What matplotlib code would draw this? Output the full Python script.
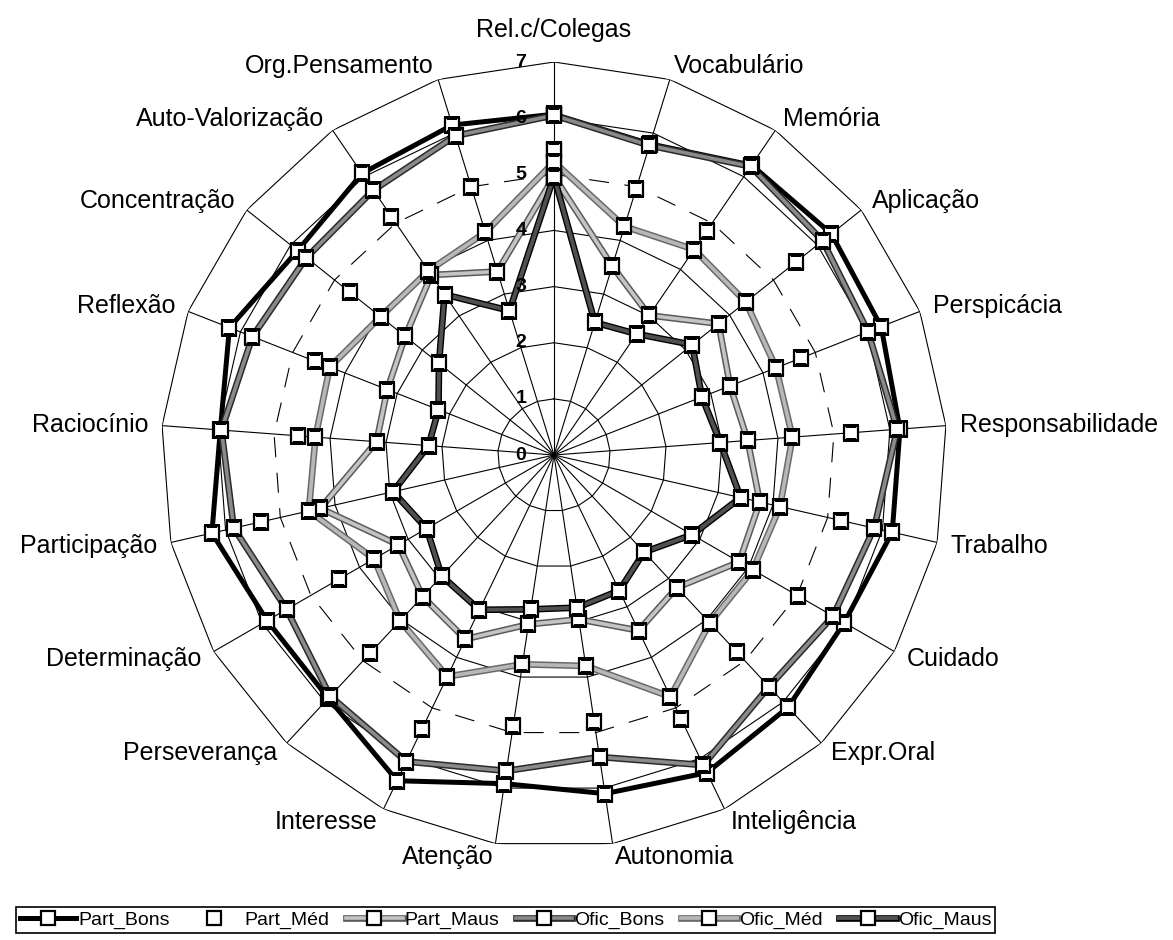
import numpy as np
import matplotlib
matplotlib.use("Agg")
import matplotlib.pyplot as plt
import matplotlib.patheffects as pe

plt.rcParams['font.family'] = ['Liberation Sans', 'DejaVu Sans']

# categories, clockwise from the top
categories = ["Rel.c/Colegas", "Vocabulário", "Memória", "Aplicação", "Perspicácia",
              "Responsabilidade", "Trabalho", "Cuidado", "Expr.Oral", "Inteligência",
              "Autonomia", "Atenção", "Interesse", "Perseverança", "Determinação",
              "Participação", "Raciocínio", "Reflexão", "Concentração",
              "Auto-Valorização", "Org.Pensamento"]

part_bons = [6.07, 5.80, 6.25, 6.32, 6.26, 6.18, 6.18, 5.97, 6.13, 6.28, 6.10,
             5.92, 6.44, 5.91, 5.90, 6.25, 5.96, 6.21, 5.84, 6.07, 6.15]
part_med = [5.43, 4.96, 4.83, 5.52, 4.73, 5.31, 5.25, 5.01, 4.78, 5.22, 4.81,
            4.89, 5.41, 4.82, 4.43, 5.36, 4.58, 4.58, 4.65, 5.14, 5.00]
part_maus = [4.96, 3.52, 3.01, 3.75, 3.37, 3.46, 3.76, 3.81, 3.22, 3.47, 2.96,
             3.05, 3.64, 3.44, 3.20, 4.27, 3.17, 3.19, 3.39, 3.88, 3.42]
ofic_bons = [6.05, 5.77, 6.22, 6.12, 6.01, 6.13, 5.85, 5.74, 5.63, 6.13, 5.44,
             5.69, 6.06, 5.86, 5.50, 5.85, 5.94, 5.77, 5.64, 5.71, 5.95]
ofic_med = [5.22, 4.26, 4.43, 4.37, 4.25, 4.26, 4.13, 4.09, 4.08, 4.78, 3.80,
            3.77, 4.38, 4.03, 3.70, 4.48, 4.26, 4.29, 3.95, 3.97, 4.15]
ofic_maus = [4.96, 2.47, 2.61, 3.15, 2.83, 2.97, 3.41, 2.84, 2.36, 2.68, 2.75,
             2.78, 3.06, 2.94, 2.62, 2.94, 2.24, 2.21, 2.62, 3.46, 2.69]

series_names = ["Part_Bons", "Part_Méd", "Part_Maus", "Ofic_Bons", "Ofic_Méd", "Ofic_Maus"]
rings = [1, 2, 3, 4, 5, 6, 7]
r_max = 7

n = len(categories)
theta = np.arange(n) * 2 * np.pi / n
theta_c = np.append(theta, theta[0])

fig = plt.figure(figsize=(11.73, 9.40), dpi=100)
ax = fig.add_axes([0.13725, 0.09787, 0.67007, 0.83617], projection='polar')
ax.set_theta_zero_location('N')
ax.set_theta_direction(-1)
ax.set_ylim(0, r_max)
ax.grid(False)
ax.set_xticks([])
ax.set_yticks([])
ax.spines['polar'].set_visible(False)
ax.patch.set_visible(False)

# spider grid
for r in rings:
    if r == 5:
        ax.plot(theta_c, [r] * (n + 1), color='black', lw=0.8, dashes=(18, 14), zorder=1)
    else:
        ax.plot(theta_c, [r] * (n + 1), color='black', lw=0.8, zorder=1)
for t in theta:
    ax.plot([t, t], [0, r_max], color='black', lw=0.8, zorder=1)

# radial tick labels
for r in [0] + rings:
    ax.annotate(str(r), xy=(0, r), xytext=(-33, 0), textcoords='offset pixels',
                ha='center', va='center', fontsize=14, fontweight='bold', zorder=6)

# category labels
for t, lab in zip(theta, categories):
    s = np.sin(t)
    if s > 0.05:
        ha = 'left'
    elif s < -0.05:
        ha = 'right'
    else:
        ha = 'center'
    va = 'bottom' if np.cos(t) > 0.99 else 'center'
    rr = 7.35 if va == 'bottom' else 7.25
    ax.text(t, rr, lab, ha=ha, va=va, fontsize=18)

mk = dict(marker='s', markersize=9.5, markerfacecolor='white',
          markeredgecolor='black', markeredgewidth=1.6, linestyle='none')

def banded(edge):
    return [pe.Stroke(linewidth=4.8, foreground=edge), pe.Normal()]

styles = [
    dict(color='black', lw=3.6),
    None,
    dict(color='#c4c4c4', lw=2.6, path_effects=banded('#5a5a5a')),
    dict(color='#8a8a8a', lw=2.6, path_effects=banded('#2a2a2a')),
    dict(color='#b8b8b8', lw=2.6, path_effects=banded('#6a6a6a')),
    dict(color='#505050', lw=2.8, path_effects=banded('black')),
]
data = [part_bons, part_med, part_maus, ofic_bons, ofic_med, ofic_maus]

handles = []
for name, vals, st in zip(series_names, data, styles):
    v = np.append(vals, vals[0])
    parts = []
    if st is not None:
        line, = ax.plot(theta_c, v, zorder=3, **st)
        parts.append(line)
    pts, = ax.plot(theta_c, v, zorder=4, **mk)
    parts.append(pts)
    handles.append(tuple(parts))

leg = fig.legend(handles=handles, labels=series_names, loc='center',
                 bbox_to_anchor=(0.431, 0.021), ncol=6, fontsize=14,
                 frameon=True, fancybox=False, edgecolor='black', framealpha=1,
                 handlelength=2.9, handletextpad=0.1, columnspacing=0.85,
                 borderpad=0.2, borderaxespad=0)
leg.get_frame().set_linewidth(1.2)

fig.savefig('out.png', dpi=100, facecolor='white')
